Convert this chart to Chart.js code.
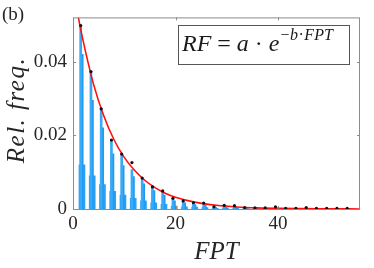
<!DOCTYPE html>
<html>
<head>
<meta charset="utf-8">
<script src="https://cdn.jsdelivr.net/npm/chart.js@4"></script>
<style>
  html, body { margin: 0; padding: 0; background: #fff; }
  #wrap { width: 374px; height: 268px; }
</style>
</head>
<body>
<div id="wrap"><canvas id="c" width="374" height="268"></canvas></div>
<script>
// valores
const fpt = [1.5, 3.5, 5.5, 7.5, 9.5, 11.5, 13.5, 15.5, 17.5, 19.5, 21.5, 23.5, 25.5, 27.5,
             29.5, 31.5, 33.5, 35.5, 37.5, 39.5, 41.5, 43.5, 45.5, 47.5, 49.5, 51.5, 53.5];
const dotFreq = [0.0498, 0.0373, 0.0272, 0.0187, 0.0149, 0.0126, 0.0084, 0.0060, 0.0049, 0.0029,
                 0.0022, 0.0017, 0.0016, 0.0006, 0.0010, 0.0009, 0.0004, 0.0003, 0.0003, 0.0006,
                 0.0002, 0.0002, 0.0004, 0.0002, 0.0002, 0.0002, 0.0002];
const spikeFreq = [0.0498, 0.0373, 0.0272, 0.0187, 0.0149, 0.0107, 0.0084, 0.0063, 0.0048, 0.0027,
                   0.0021, 0.0014, 0.0012, 0.0006, 0.0008, 0.0007, 0.0004, 0.0003, 0.0003, 0.0004,
                   0.0002, 0.0002, 0.0003, 0.0002, 0.0001, 0.0001, 0.0001];
const bodyFreq = [0.0420, 0.0295, 0.0220, 0.0150, 0.0118, 0.0088, 0.0068, 0.0050, 0.0038, 0.0022,
                  0.0017, 0.0012, 0.0010, 0.0005, 0.0006, 0.0005, 0.0003, 0.0002, 0.0002, 0.0003,
                  0.0001, 0.0001, 0.0002, 0.0001, 0.0001, 0.0001, 0.0001];
const skirtFreq = [0.0120, 0.0090, 0.0066, 0.0048, 0.0038, 0.0029, 0.0022, 0.0017, 0.0013, 0.0008,
                   0.0006, 0.0005, 0.0004, 0.0002, 0.0003, 0.0002, 0.0001, 0.0001, 0.0001, 0.0001,
                   0.0001, 0.0001, 0.0001, 0.0001, 0.0001, 0.0001, 0.0001];
// curva de ajuste RF = a·e^(-b·FPT), puntos leídos
const fitX = [1, 2, 4, 6, 8, 10, 12, 14, 16, 18, 20, 24, 28, 32, 36, 40, 48, 56];
const fitY = [0.0523, 0.0455, 0.0339, 0.0253, 0.0188, 0.0140, 0.0105, 0.0078, 0.0058, 0.0043,
              0.0032, 0.0018, 0.0010, 0.00055, 0.0003, 0.00017, 0.00005, 0.00002];
const xTicks = [0, 20, 40];
const yTicks = [0, 0.02, 0.04];

const serif = '"Liberation Serif", "DejaVu Serif", serif';
const axisGray = '#8c8c8c';

const pts = (xs, ys, dx) => xs.map((x, i) => ({ x: x + (dx || 0), y: ys[i] }));

// caja, marcas interiores, títulos y recuadro de la ecuación
const decor = {
    id: 'decor',
    afterDraw(chart) {
        const ctx = chart.ctx, a = chart.chartArea;
        const sx = chart.scales.x, sy = chart.scales.y;
        ctx.save();
        ctx.strokeStyle = axisGray;
        ctx.lineWidth = 1;
        ctx.strokeRect(a.left + 0.5, a.top + 0.5, a.right - a.left - 1, a.bottom - a.top);
        ctx.beginPath();
        xTicks.forEach(v => {
            const p = Math.round(sx.getPixelForValue(v)) + 0.5;
            ctx.moveTo(p, a.bottom); ctx.lineTo(p, a.bottom - 3);
            ctx.moveTo(p, a.top); ctx.lineTo(p, a.top + 3);
        });
        yTicks.forEach(v => {
            const p = Math.round(sy.getPixelForValue(v)) + 0.5;
            ctx.moveTo(a.left, p); ctx.lineTo(a.left + 3, p);
            ctx.moveTo(a.right, p); ctx.lineTo(a.right - 3, p);
        });
        ctx.stroke();

        ctx.fillStyle = '#262626';
        // (b)
        ctx.font = '19px ' + serif;
        ctx.textAlign = 'left';
        ctx.textBaseline = 'alphabetic';
        ctx.fillText('(b)', 2, 20);
        // título x
        ctx.font = 'italic 25px ' + serif;
        ctx.textAlign = 'center';
        ctx.fillText('FPT', (a.left + a.right) / 2, 259);
        // título y
        ctx.save();
        ctx.translate(24, 110);
        ctx.rotate(-Math.PI / 2);
        ctx.letterSpacing = '1.5px';
        ctx.fillText('Rel. freq.', 0, 0);
        ctx.restore();

        // recuadro de la ecuación
        ctx.fillStyle = '#fff';
        ctx.fillRect(178, 25, 171, 39);
        ctx.strokeStyle = '#555';
        ctx.strokeRect(178.5, 25.5, 171, 39);
        ctx.fillStyle = '#1a1a1a';
        ctx.textAlign = 'left';
        let x = 182;
        const base = 51;
        const parts = [['italic 24px ', 'RF'], ['24px ', ' = '], ['italic 24px ', 'a'], ['24px ', ' · '], ['italic 24px ', 'e']];
        parts.forEach(p => {
            ctx.font = p[0] + serif;
            ctx.fillText(p[1], x, base);
            x += ctx.measureText(p[1]).width;
        });
        x += 1;
        const sup = [['16px ', '\u2212'], ['italic 16px ', 'b'], ['16px ', '·'], ['italic 16px ', 'FPT']];
        sup.forEach(p => {
            ctx.font = p[0] + serif;
            ctx.fillText(p[1], x, base - 11);
            x += ctx.measureText(p[1]).width + 0.5;
        });
        ctx.restore();
    }
};

new Chart(document.getElementById('c'), {
    type: 'bar',
    data: {
        datasets: [
            {
                type: 'line',
                label: 'puntos',
                data: pts(fpt, dotFreq),
                showLine: false,
                pointRadius: 1.6,
                pointBackgroundColor: '#111',
                pointBorderWidth: 0,
                order: 0
            },
            {
                type: 'line',
                label: 'ajuste',
                data: pts(fitX, fitY),
                borderColor: '#ff1010',
                borderWidth: 1.6,
                pointRadius: 0,
                cubicInterpolationMode: 'monotone',
                fill: false,
                order: 1
            },
            {
                label: 'pico',
                data: pts(fpt, spikeFreq),
                backgroundColor: '#3aa9f6',
                barThickness: 2,
                grouped: false,
                order: 2
            },
            {
                label: 'cuerpo',
                data: pts(fpt, bodyFreq, 0.2),
                backgroundColor: '#1c9cf5',
                barThickness: 3,
                grouped: false,
                order: 3
            },
            {
                label: 'base',
                data: pts(fpt, skirtFreq, 0.25),
                backgroundColor: '#2aa2f5',
                barThickness: 6,
                grouped: false,
                order: 4
            }
        ]
    },
    options: {
        responsive: false,
        animation: false,
        layout: { padding: { top: 7, right: 14, left: 0, bottom: 0 } },
        plugins: { legend: { display: false }, tooltip: { enabled: false } },
        scales: {
            x: {
                type: 'linear',
                min: 0,
                max: 56,
                offset: false,
                grid: { display: false, drawTicks: false },
                border: { display: false },
                afterBuildTicks: s => { s.ticks = xTicks.map(v => ({ value: v })); },
                ticks: { color: '#262626', font: { family: serif, size: 19 }, padding: 4, maxRotation: 0 },
                afterFit: s => { s.height = 59; }
            },
            y: {
                min: 0,
                max: 0.052,
                grid: { display: false, drawTicks: false },
                border: { display: false },
                afterBuildTicks: s => { s.ticks = yTicks.map(v => ({ value: v })); },
                ticks: { color: '#262626', font: { family: serif, size: 19 }, padding: 6 },
                afterFit: s => { s.width = 73; }
            }
        }
    },
    plugins: [decor]
});
</script>
</body>
</html>
